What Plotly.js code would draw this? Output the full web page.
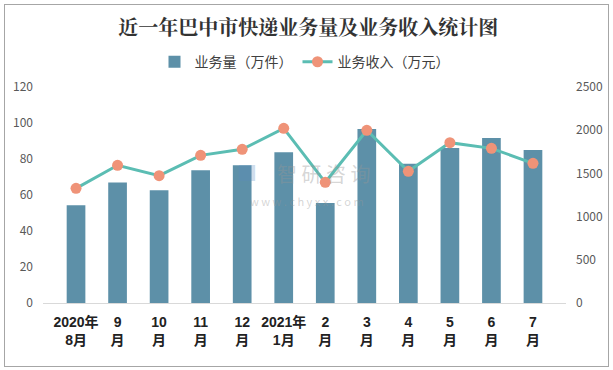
<!DOCTYPE html>
<html>
<head>
<meta charset="utf-8">
<script src="https://cdn.plot.ly/plotly-3.0.1.min.js"></script>
<style>
html,body{margin:0;padding:0;background:#fff;}
#wrap{position:relative;width:613px;height:370px;}
#chart{width:613px;height:370px;}
#frame{position:absolute;left:4px;top:4px;width:603px;height:361px;border:1px solid #a6a6a6;pointer-events:none;}
</style>
</head>
<body>
<div id="wrap"><div id="chart"></div><div id="frame"></div></div>
<script>
const categories = ["2020年8月","2020年9月","2020年10月","2020年11月","2020年12月","2021年1月","2021年2月","2021年3月","2021年4月","2021年5月","2021年6月","2021年7月"];
const tickLabels = ["2020年<br>8月","9<br>月","10<br>月","11<br>月","12<br>月","2021年<br>1月","2<br>月","3<br>月","4<br>月","5<br>月","6<br>月","7<br>月"];
const volume = [54.3, 67.0, 62.6, 73.7, 76.5, 83.7, 55.6, 96.7, 77.4, 86.1, 91.7, 85.0];
const revenue = [1327, 1594, 1474, 1709, 1779, 2022, 1397, 1999, 1524, 1856, 1790, 1617];

const font = 'Noto Sans CJK SC, Microsoft YaHei, sans-serif';

const traces = [
  {
    type: 'bar', name: '业务量（万件）', x: categories, y: volume,
    marker: {color: '#5D90A8'}, yaxis: 'y'
  },
  {
    type: 'scatter', mode: 'lines+markers', name: '业务收入（万元）', x: categories, y: revenue,
    line: {color: '#5BBDB3', width: 3}, marker: {color: '#EF9378', size: 11},
    yaxis: 'y2'
  }
];

const layout = {
  width: 613, height: 370,
  margin: {l: 43, r: 47, t: 87, b: 67},
  paper_bgcolor: '#ffffff', plot_bgcolor: '#ffffff',
  font: {family: font, color: '#595959', size: 12},
  title: {text: '<b>近一年巴中市快递业务量及业务收入统计图</b>', x: 0.503, xanchor: 'center', y: 0.925, yanchor: 'middle',
          font: {family: 'Noto Serif CJK SC, Noto Sans CJK SC, serif', size: 20, color: '#333333'}},
  showlegend: true,
  legend: {orientation: 'h', x: 0.5, xanchor: 'center', y: 1.115, yanchor: 'middle',
           font: {size: 14, color: '#404040', family: font}, itemwidth: 30, tracegroupgap: 0},
  bargap: 0.55,
  xaxis: {
    type: 'category', tickmode: 'array', tickvals: categories, ticktext: tickLabels,
    showline: true, linecolor: '#d9d9d9', linewidth: 1, ticks: '', showgrid: false,
    tickfont: {size: 14, color: '#222222', family: 'Liberation Sans, Noto Sans CJK SC, sans-serif', weight: 'bold'},
    ticklabelstandoff: 6,
    fixedrange: true
  },
  yaxis: {
    range: [0, 120], dtick: 20, showgrid: false, zeroline: false, showline: false, ticks: '',
    tickfont: {size: 12, color: '#595959'}, ticklabelstandoff: 9
  },
  yaxis2: {
    range: [0, 2500], dtick: 500, overlaying: 'y', side: 'right', showgrid: false, zeroline: false,
    showline: false, ticks: '', tickfont: {size: 12, color: '#595959'}, ticklabelstandoff: 9
  },
  annotations: [
    {text: '智 研 咨 询', xref: 'paper', yref: 'paper', x: 0.537, y: 0.6, showarrow: false,
     font: {size: 20, color: 'rgba(150,150,150,0.4)', family: font}},
    {text: 'w w w . c h y x x . c o m', xref: 'paper', yref: 'paper', x: 0.505, y: 0.47, showarrow: false,
     font: {size: 11, color: 'rgba(150,150,150,0.4)', family: font}},
    {text: '■', xref: 'paper', yref: 'paper', x: 0.39, y: 0.605, showarrow: false,
     font: {size: 20, color: 'rgba(90,140,190,0.3)', family: font}}
  ]
};

Plotly.newPlot('chart', traces, layout, {displayModeBar: false, staticPlot: true});
</script>
</body>
</html>
